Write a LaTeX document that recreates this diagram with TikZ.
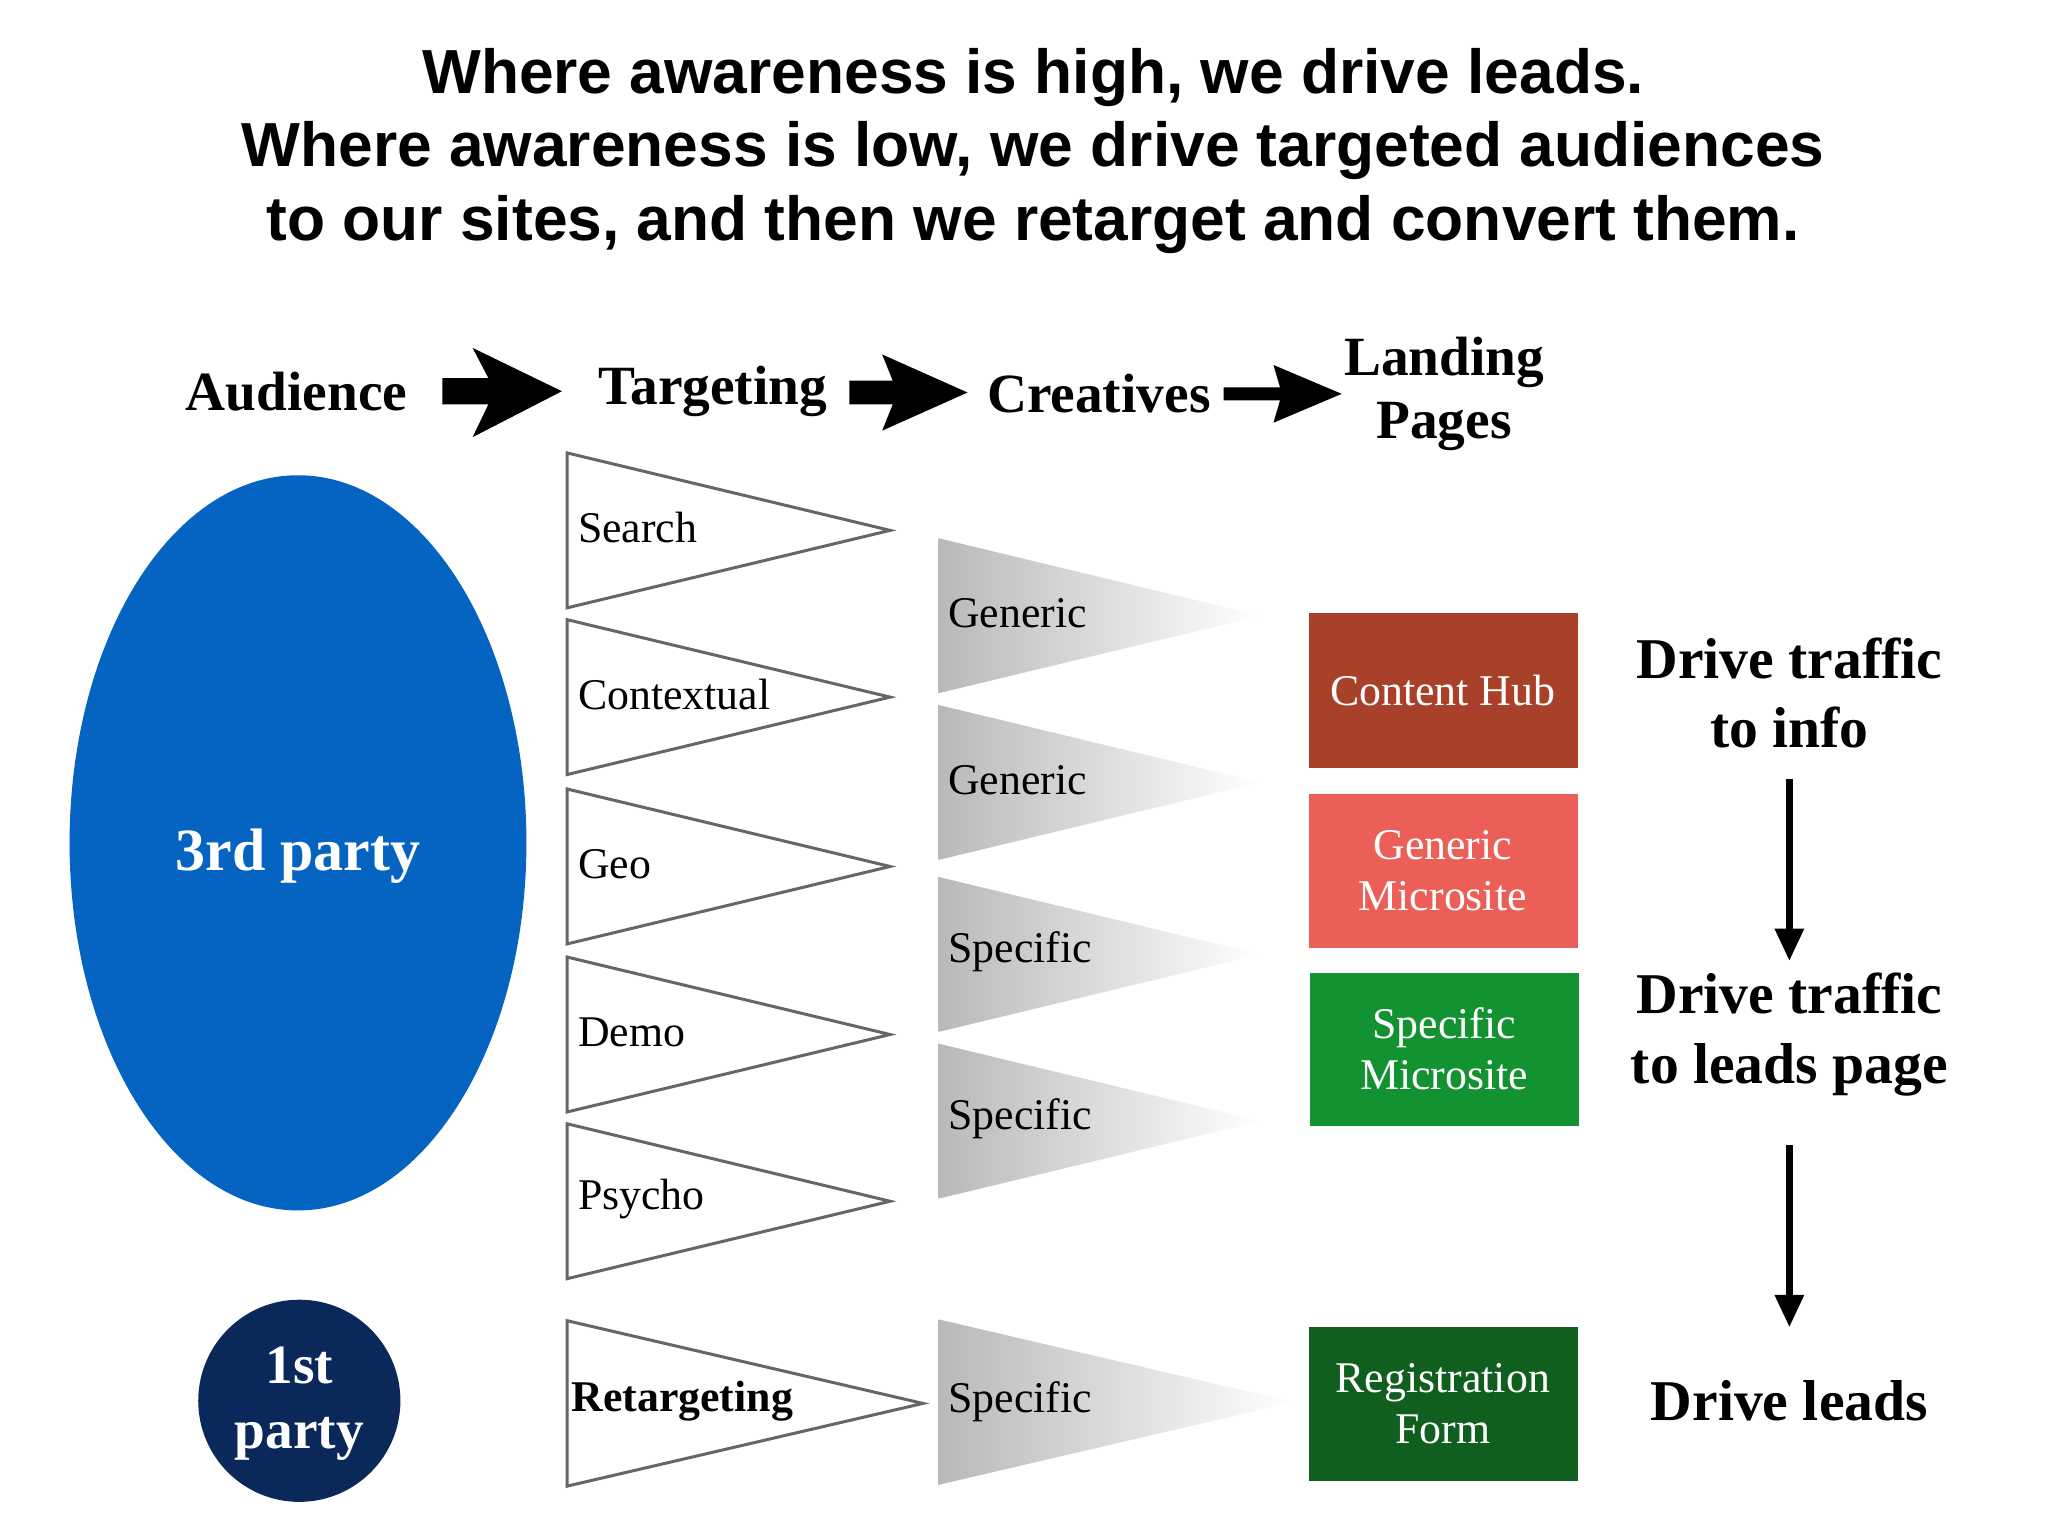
\documentclass[tikz,border=0pt]{standalone}
\usepackage{fontspec}
\setmainfont{Liberation Serif}
\newfontfamily\titlefont{Liberation Sans}
\begin{document}
\begin{tikzpicture}[x=0.02cm,y=-0.02cm,
  ttl/.style={font=\titlefont\bfseries\fontsize{27}{32}\selectfont,align=center},
  hdr/.style={font=\bfseries\fontsize{24}{27}\selectfont,align=center},
  tlab/.style={font=\fontsize{19}{22}\selectfont,anchor=west,inner sep=0},
  box/.style={minimum width=205\pgflinewidth, text=white,font=\fontsize{19}{20}\selectfont,align=center},
  rt/.style={font=\bfseries\fontsize{25}{30}\selectfont,align=center},
  tri/.style={draw=gray!80!black,line width=1.3pt,fill=white},
  dn/.style={-{Triangle[length=14pt,width=12pt]},line width=3pt}]
\usetikzlibrary{arrows.meta}
\useasboundingbox (0,0) rectangle (1560,1170);
\fill[white] (0,0) rectangle (1560,1170);
\node[ttl] (title) at (787,115) {Where awareness is high, we drive leads.\\Where awareness is low, we drive targeted audiences\\to our sites, and then we retarget and convert them.};
% header
\node[hdr] (aud) at (226,298) {Audience};
\node[hdr] (tgt) at (543,298) {Targeting};
\node[hdr] (cre) at (837,300) {Creatives};
\node[hdr] (lp) at (1100,300) {Landing\\Pages};
\fill (337,288)--(372,288)--(360,265)--(428,298)--(360,333)--(372,308)--(337,308)--cycle;
\fill (647,290)--(680,290)--(672,270)--(737,299)--(672,328)--(680,308)--(647,308)--cycle;
\fill (932,295)--(975,295)--(970,278)--(1022,300)--(970,322)--(975,305)--(932,305)--cycle;
% audience
\fill[fill={rgb,255:red,5;green,99;blue,193}] (227,642) ellipse [x radius=174, y radius=280];
\node[font=\bfseries\fontsize{26}{30}\selectfont,text=white] (third) at (227,652) {3rd party};
\fill[fill={rgb,255:red,11;green,40;blue,90}] (228,1067) circle [radius=77];
\node[font=\bfseries\fontsize{24}{28}\selectfont,text=white,align=center] (first) at (228,1069) {1st\\party};
% targeting
\foreach \t/\l [count=\i] in {345/Search,472/Contextual,601/Geo,729/Demo,856/Psycho}{
  \draw[tri] (432,\t) -- (678,\t+59) -- (432,\t+118) -- cycle;
  \node[tlab] (t\i) at (440,\t+57) {\l};
}
\draw[tri] (432,1006) -- (703,1069) -- (432,1132) -- cycle;
\node[tlab,font=\bfseries\fontsize{19}{22}\selectfont] (t6) at (435,1067) {Retargeting};
% creatives
\foreach \t/\l [count=\i] in {410/Generic,537/Generic,668/Specific,795/Specific}{
  \shade[left color=gray!55,right color=white] (715,\t) -- (960,\t+59) -- (715,\t+118) -- cycle;
  \node[tlab] (c\i) at (722,\t+57) {\l};
}
\shade[left color=gray!55,right color=white] (715,1005) -- (985,1068) -- (715,1131) -- cycle;
\node[tlab] (c5) at (722,1068) {Specific};
% boxes
\fill[fill={rgb,255:red,168;green,64;blue,42}] (997,467) rectangle (1202,585);
\node[text=white,font=\fontsize{19}{22}\selectfont] (b1) at (1099,526) {Content Hub};
\fill[fill={rgb,255:red,236;green,95;blue,88}] (997,605) rectangle (1202,722);
\node[text=white,font=\fontsize{19}{22}\selectfont,align=center] (b2) at (1099,663) {Generic\\Microsite};
\fill[fill={rgb,255:red,19;green,146;blue,50}] (998,741) rectangle (1203,858);
\node[text=white,font=\fontsize{19}{22}\selectfont,align=center] (b3) at (1100,799) {Specific\\Microsite};
\fill[fill={rgb,255:red,16;green,95;blue,30}] (997,1011) rectangle (1202,1128);
\node[text=white,font=\fontsize{19}{22}\selectfont,align=center] (b4) at (1099,1069) {Registration\\Form};
% right
\node[rt] (r1) at (1363,528) {Drive traffic\\to info};
\node[rt] (r2) at (1363,788) {Drive traffic\\to leads page};
\node[rt] (r3) at (1363,1067) {Drive leads};
\coordinate (a1) at (1363,593); \coordinate (a2) at (1363,732);
\coordinate (a3) at (1363,872); \coordinate (a4) at (1363,1011);
\draw[dn] (a1) -- (a2);
\draw[dn] (a3) -- (a4);
\end{tikzpicture}
\end{document}
